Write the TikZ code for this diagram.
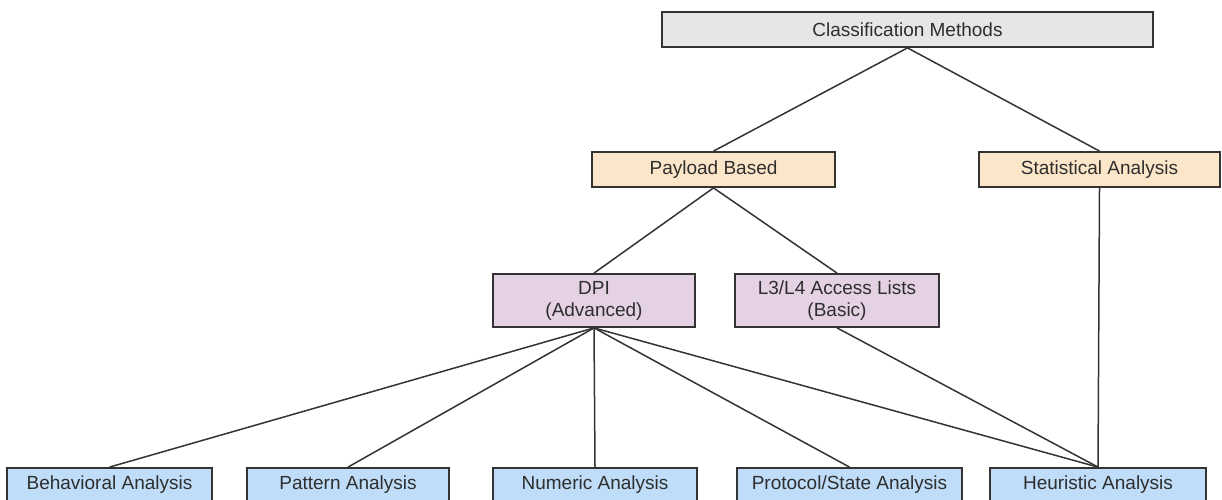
\documentclass[tikz,border=0pt]{standalone}
\usepackage{fontspec}
\setmainfont{Liberation Sans}
\definecolor{boxline}{HTML}{333333}
\definecolor{textgray}{HTML}{2E2E2E}
\definecolor{rootfill}{HTML}{E6E6E6}
\definecolor{catfill}{HTML}{FCE6C9}
\definecolor{techfill}{HTML}{E4D1E4}
\definecolor{leaffill}{HTML}{BFDDF8}
\begin{document}
\begin{tikzpicture}[x=1pt,y=-1pt,
  box/.style={draw=boxline,line width=1.8pt,inner sep=0pt,align=center,
    text=textgray,font=\fontsize{19}{22}\selectfont},
  rootbox/.style={box,fill=rootfill,minimum height=35pt},
  catbox/.style={box,fill=catfill,minimum height=35pt},
  techbox/.style={box,fill=techfill,minimum height=53pt},
  leafbox/.style={box,fill=leaffill,minimum height=34pt},
  link/.style={draw=boxline,line width=1.5pt}]
\useasboundingbox (0,0) rectangle (1222,500);
\clip (0,0) rectangle (1222,500);

% root
\node[rootbox,minimum width=491pt] (root) at (907.5,29.5) {Classification Methods};

% categories
\node[catbox,minimum width=243pt] (payload) at (713.5,169.5) {Payload Based};
\node[catbox,minimum width=241pt] (stat) at (1099.5,169.5) {Statistical Analysis};

% inspection techniques
\node[techbox,minimum width=202pt] (dpi) at (594,300.5) {DPI\\(Advanced)};
\node[techbox,minimum width=204pt] (acl) at (837,300.5) {L3/L4 Access Lists\\(Basic)};

% analysis methods
\node[leafbox,minimum width=205pt] (behav) at (109.5,485) {Behavioral Analysis};
\node[leafbox,minimum width=202pt] (pattern) at (348,485) {Pattern Analysis};
\node[leafbox,minimum width=204pt] (numeric) at (595,485) {Numeric Analysis};
\node[leafbox,minimum width=225pt] (proto) at (849.5,485) {Protocol/State Analysis};
\node[leafbox,minimum width=216pt] (heur) at (1098,485) {Heuristic Analysis};

% connectors
\path[link] (root.south) -- (payload.north);
\path[link] (root.south) -- (stat.north);
\path[link] (payload.south) -- (dpi.north);
\path[link] (payload.south) -- (acl.north);
\path[link] (dpi.south) -- (behav.north);
\path[link] (dpi.south) -- (pattern.north);
\path[link] (dpi.south) -- (numeric.north);
\path[link] (dpi.south) -- (proto.north);
\path[link] (dpi.south) -- (heur.north);
\path[link] (acl.south) -- (heur.north);
\path[link] (stat.south) -- (heur.north);
\end{tikzpicture}
\end{document}
